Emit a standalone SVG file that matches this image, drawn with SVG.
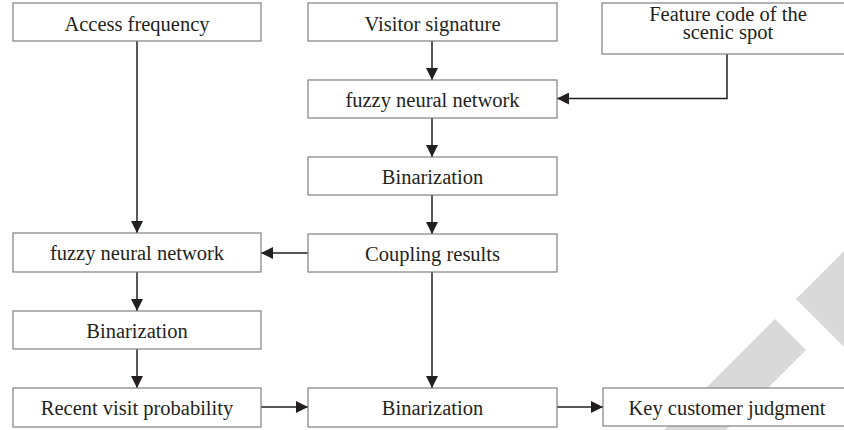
<svg xmlns="http://www.w3.org/2000/svg" width="844" height="430" viewBox="0 0 844 430">
  <style>
    .box { fill: #ffffff; stroke: #808080; stroke-width: 1.2; }
    .lbl { font-family: "Liberation Serif", Tinos, "Times New Roman", "DejaVu Serif", serif; font-size: 20.5px; fill: #231f20; text-anchor: middle; }
    .wire { fill: none; stroke: #231f20; stroke-width: 1.5; }
    .mark { fill: #d9d9d9; }
  </style>
  <defs>
    <marker id="arrow" markerUnits="userSpaceOnUse" markerWidth="13" markerHeight="12" refX="12" refY="6" orient="auto">
      <path d="M0,0 L12,6 L0,12 z" fill="#231f20"/>
    </marker>
  </defs>

  <rect width="844" height="430" fill="#ffffff"/>

  <!-- light gray background mark, bottom right -->
  <g id="backmark">
    <polygon class="mark" points="796,299 844,251 844,347"/>
    <polygon class="mark" points="775,319 806,350 726,430 664,430"/>
  </g>

  <g id="connectors">
    <line class="wire" x1="137" y1="41" x2="137" y2="233" marker-end="url(#arrow)"/>
    <line class="wire" x1="432" y1="41" x2="432" y2="80" marker-end="url(#arrow)"/>
    <polyline class="wire" points="727,54 727,98.5 557,98.5" marker-end="url(#arrow)"/>
    <line class="wire" x1="432" y1="118" x2="432" y2="157" marker-end="url(#arrow)"/>
    <line class="wire" x1="432" y1="195" x2="432" y2="234" marker-end="url(#arrow)"/>
    <line class="wire" x1="308" y1="253" x2="261" y2="253" marker-end="url(#arrow)"/>
    <line class="wire" x1="137" y1="272" x2="137" y2="311" marker-end="url(#arrow)"/>
    <line class="wire" x1="137" y1="349" x2="137" y2="388" marker-end="url(#arrow)"/>
    <line class="wire" x1="432" y1="272" x2="432" y2="388" marker-end="url(#arrow)"/>
    <line class="wire" x1="261" y1="407" x2="308" y2="407" marker-end="url(#arrow)"/>
    <line class="wire" x1="557" y1="407" x2="603" y2="407" marker-end="url(#arrow)"/>
  </g>

  <g id="access-frequency">
    <rect class="box" x="13" y="3" width="248" height="38"/>
    <text class="lbl" x="137" y="31">Access frequency</text>
  </g>
  <g id="visitor-signature">
    <rect class="box" x="308" y="3" width="249" height="38"/>
    <text class="lbl" x="432.5" y="31">Visitor signature</text>
  </g>
  <g id="feature-code">
    <rect class="box" x="602" y="3" width="250" height="51"/>
    <text class="lbl" x="728" y="20.5">Feature code of the</text>
    <text class="lbl" x="728" y="38.5">scenic spot</text>
  </g>
  <g id="fnn-top">
    <rect class="box" x="308" y="80" width="249" height="38"/>
    <text class="lbl" x="432.5" y="106.5">fuzzy neural network</text>
  </g>
  <g id="binarization-mid">
    <rect class="box" x="308" y="157" width="249" height="38"/>
    <text class="lbl" x="432.5" y="183.5">Binarization</text>
  </g>
  <g id="coupling-results">
    <rect class="box" x="308" y="234" width="249" height="38"/>
    <text class="lbl" x="432.5" y="260.5">Coupling results</text>
  </g>
  <g id="fnn-left">
    <rect class="box" x="13" y="233" width="248" height="39"/>
    <text class="lbl" x="137" y="260">fuzzy neural network</text>
  </g>
  <g id="binarization-left">
    <rect class="box" x="13" y="311" width="248" height="38"/>
    <text class="lbl" x="137" y="337.5">Binarization</text>
  </g>
  <g id="recent-visit">
    <rect class="box" x="13" y="388" width="248" height="39"/>
    <text class="lbl" x="137" y="415">Recent visit probability</text>
  </g>
  <g id="binarization-bottom">
    <rect class="box" x="308" y="388" width="249" height="39"/>
    <text class="lbl" x="432.5" y="415">Binarization</text>
  </g>
  <g id="key-customer">
    <rect class="box" x="603" y="388" width="249" height="38"/>
    <text class="lbl" x="727" y="415">Key customer judgment</text>
  </g>
</svg>
